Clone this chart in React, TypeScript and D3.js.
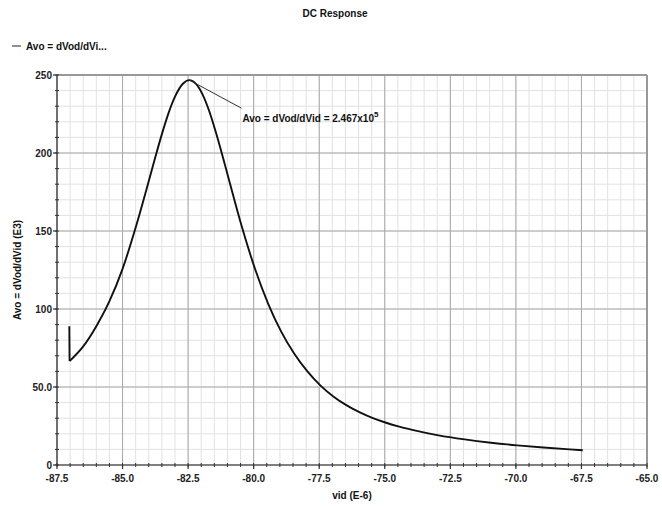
import React from "react";
import * as d3 from "d3";

const title = "DC Response";
const seriesName = "Avo = dVod/dVid";
const legendLabel = "Avo = dVod/dVi...";
const xLabel = "vid (E-6)";
const yLabel = "Avo = dVod/dVid (E3)";
const xTicks = [-87.5, -85.0, -82.5, -80.0, -77.5, -75.0, -72.5, -70.0, -67.5, -65.0];
const xTickLabels = ["-87.5", "-85.0", "-82.5", "-80.0", "-77.5", "-75.0", "-72.5", "-70.0", "-67.5", "-65.0"];
const yTicks = [0, 50, 100, 150, 200, 250];
const yTickLabels = ["0", "50.0", "100", "150", "200", "250"];

// vid (E-6)
const vid = [
  -87.03, -87.02, -86.5, -86.0, -85.5, -85.0, -84.5, -84.0, -83.75, -83.5, -83.25, -83.0, -82.7,
  -82.45,
  -82.2, -81.95, -81.7, -81.45, -81.2, -80.95, -80.45, -79.95, -79.45, -78.95, -78.45, -77.95,
  -77.45, -76.95, -76.45, -75.95, -75.45, -74.95, -74.45, -73.95, -72.95, -71.95, -70.95,
  -69.95, -68.95, -67.95, -67.45,
];
// Avo (E3)
const avo = [
  89, 66.6, 76, 89, 105, 125.7, 152.2, 182.0, 197.4, 212.1, 225.4, 236.1, 244.4,
  246.7,
  244.3, 237.6, 227.1, 213.8, 198.9, 183.3, 152.7, 125.8, 103.5, 85.5, 71.3, 60.0,
  50.9, 43.8, 38.2, 33.8, 30.1, 27.1, 24.6, 22.5, 19.0, 16.4, 14.3,
  12.6, 11.2, 10.0, 9.5,
];
const peakX = -82.45;
const peakY = 246.7;

export default function App() {
  const W = 662, H = 506;
  const m = { left: 57, right: 15, top: 75, bottom: 41 };
  const x = d3.scaleLinear().domain([-87.5, -65.0]).range([m.left, W - m.right]);
  const y = d3.scaleLinear().domain([0, 250]).range([H - m.bottom, m.top]);

  const minorX = d3.range(-87.5, -65.0 + 1e-6, 0.5);
  const minorY = d3.range(0, 250 + 1e-6, 10);

  const pts = vid.map((v, i) => [v, avo[i]] as [number, number]);
  const jump = d3.line<[number, number]>().x(d => x(d[0])).y(d => y(d[1]))(pts.slice(0, 2));
  const main = d3
    .line<[number, number]>()
    .x(d => x(d[0]))
    .y(d => y(d[1]))
    .curve(d3.curveMonotoneX)(pts.slice(1));

  const font = "'Liberation Sans', Arial, sans-serif";
  const x0 = x(-87.5), x1 = x(-65.0), y0 = y(0), y1 = y(250);
  const px = x(peakX), py = y(peakY);

  return (
    <svg width={W} height={H} style={{ position: "absolute", left: 0, top: 0, background: "#fff" }} fontFamily={font}>
      <text x={335} y={17} textAnchor="middle" fontSize={10} fontWeight="bold" fill="#111">{title}</text>
      <line x1={12} x2={21} y1={46} y2={46} stroke="#222" strokeWidth={1} />
      <text x={26} y={49.5} fontSize={10} fontWeight="bold" fill="#111">{legendLabel}</text>

      {minorX.map((v, i) => (
        <line key={"mx" + i} x1={x(v)} x2={x(v)} y1={y0} y2={y1} stroke="#e2e2e2" strokeWidth={1} />
      ))}
      {minorY.map((v, i) => (
        <line key={"my" + i} x1={x0} x2={x1} y1={y(v)} y2={y(v)} stroke="#e2e2e2" strokeWidth={1} />
      ))}
      {xTicks.map((v, i) => (
        <line key={"gx" + i} x1={x(v)} x2={x(v)} y1={y0} y2={y1} stroke="#a8a8a8" strokeWidth={1} />
      ))}
      {yTicks.map((v, i) => (
        <line key={"gy" + i} x1={x0} x2={x1} y1={y(v)} y2={y(v)} stroke="#a8a8a8" strokeWidth={1} />
      ))}
      <line x1={x0} x2={x1} y1={y1} y2={y1} stroke="#999" strokeWidth={2} />
      <line x1={x1} x2={x1} y1={y0} y2={y1} stroke="#999" strokeWidth={2} />

      {/* axes */}
      <line x1={x0} x2={x1} y1={y0} y2={y0} stroke="#333" strokeWidth={1.2} />
      <line x1={x0} x2={x0} y1={y0} y2={y1} stroke="#333" strokeWidth={1.2} />
      {minorX.map((v, i) => (
        <line key={"tx" + i} x1={x(v)} x2={x(v)} y1={y0 - 2} y2={y0 + 2} stroke="#333" strokeWidth={1} />
      ))}
      {minorY.map((v, i) => (
        <line key={"ty" + i} x1={x0 - 2} x2={x0 + 2} y1={y(v)} y2={y(v)} stroke="#333" strokeWidth={1} />
      ))}
      {xTicks.map((v, i) => (
        <line key={"Tx" + i} x1={x(v)} x2={x(v)} y1={y0} y2={y0 + 4} stroke="#333" strokeWidth={1.2} />
      ))}
      {yTicks.map((v, i) => (
        <line key={"Ty" + i} x1={x0 - 4} x2={x0} y1={y(v)} y2={y(v)} stroke="#333" strokeWidth={1.2} />
      ))}
      {xTicks.map((v, i) => (
        <text key={"lx" + i} x={x(v)} y={y0 + 17} textAnchor="middle" fontSize={10} fontWeight="bold" fill="#222">
          {xTickLabels[i]}
        </text>
      ))}
      {yTicks.map((v, i) => (
        <text key={"ly" + i} x={x0 - 5} y={y(v) + 3.5} textAnchor="end" fontSize={10} fontWeight="bold" fill="#222">
          {yTickLabels[i]}
        </text>
      ))}
      <text x={(x0 + x1) / 2} y={499} textAnchor="middle" fontSize={10} fontWeight="bold" fill="#111">{xLabel}</text>
      <text transform={`translate(21,${(y0 + y1) / 2}) rotate(-90)`} textAnchor="middle" fontSize={10} fontWeight="bold" fill="#111">
        {yLabel}
      </text>

      {/* curve */}
      <path d={jump || ""} fill="none" stroke="#111" strokeWidth={1.9} />
      <path d={main || ""} fill="none" stroke="#111" strokeWidth={1.9} strokeLinejoin="round" />

      {/* marker annotation */}
      <line x1={px} y1={py} x2={px + 52} y2={py + 28} stroke="#333" strokeWidth={1} />
      <text x={px + 53} y={py + 42} fontSize={10} fontWeight="bold" fill="#111">
        {seriesName} = 2.467x10
        <tspan dy={-5} fontSize={8}>5</tspan>
      </text>
    </svg>
  );
}
